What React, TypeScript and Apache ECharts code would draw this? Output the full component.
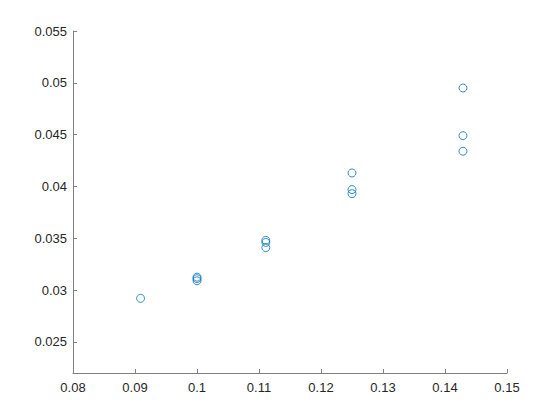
import React, { useEffect, useRef } from "react";
import * as echarts from "echarts";

const xValues = [0.0909, 0.1, 0.1, 0.1, 0.1111, 0.1111, 0.1111, 0.125, 0.125, 0.125, 0.1429, 0.1429, 0.1429];
const yValues = [0.0292, 0.03125, 0.0311, 0.0309, 0.0348, 0.0346, 0.0341, 0.0413, 0.0397, 0.0393, 0.0495, 0.0449, 0.0434];
const yTicks = [0.025, 0.03, 0.035, 0.04, 0.045, 0.05, 0.055];

const fmt = (v: number) => String(parseFloat(v.toFixed(4)));

export default function App() {
  const ref = useRef<HTMLDivElement>(null);
  useEffect(() => {
    if (!ref.current) return;
    const chart = echarts.init(ref.current, undefined, { renderer: "svg" });
    const axisColor = "#808080";
    const labelColor = "#262626";
    chart.setOption({
      animation: false,
      backgroundColor: "#ffffff",
      grid: { left: 73, right: 53, top: 31, bottom: 47, containLabel: false },
      xAxis: {
        type: "value",
        min: 0.08,
        max: 0.15,
        interval: 0.01,
        splitLine: { show: false },
        axisLine: { show: true, onZero: false, lineStyle: { color: axisColor, width: 1 } },
        axisTick: { show: true, inside: true, length: 4, lineStyle: { color: axisColor } },
        axisLabel: {
          color: labelColor,
          fontSize: 13,
          fontFamily: "Arial, 'Liberation Sans', sans-serif",
          margin: 8,
          formatter: (v: number) => fmt(v),
        },
      },
      yAxis: {
        type: "value",
        min: 0.022,
        max: 0.055,
        splitLine: { show: false },
        axisLine: { show: true, onZero: false, lineStyle: { color: axisColor, width: 1 } },
        axisTick: { show: true, inside: true, length: 4, customValues: yTicks, lineStyle: { color: axisColor } },
        axisLabel: {
          color: labelColor,
          fontSize: 13,
          fontFamily: "Arial, 'Liberation Sans', sans-serif",
          margin: 6,
          customValues: yTicks,
          formatter: (v: number) => fmt(v),
        },
      },
      series: [
        {
          type: "scatter",
          data: xValues.map((x, i) => [x, yValues[i]]),
          symbol: "circle",
          symbolSize: 8,
          itemStyle: { color: "rgba(0,0,0,0)", borderColor: "#0072BD", borderWidth: 1 },
          emphasis: { disabled: true },
        },
      ],
    });
    return () => chart.dispose();
  }, []);
  return (
    <div
      ref={ref}
      style={{ position: "fixed", left: 0, top: 0, width: 560, height: 420, background: "#fff" }}
    />
  );
}
